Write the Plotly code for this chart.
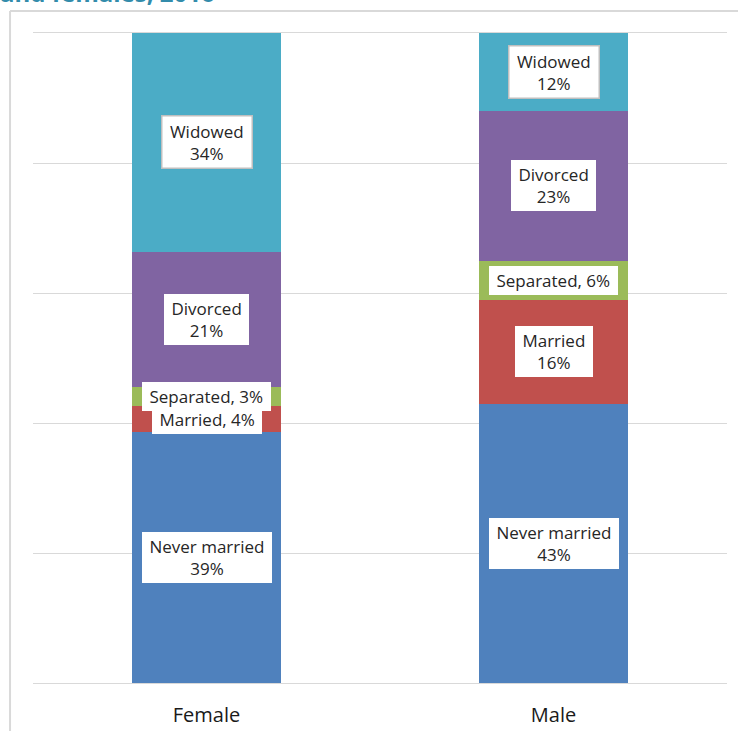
import plotly.graph_objects as go

categories = ["Female", "Male"]
statuses = ["Never married", "Married", "Separated", "Divorced", "Widowed"]
female_values = [39, 4, 3, 21, 34]
male_values = [43, 16, 6, 23, 12]
colors = ["#4f81bd", "#c0504d", "#9bbb59", "#8064a2", "#4bacc6"]

series = {"Female": female_values, "Male": male_values}

fig = go.Figure()
for i, status in enumerate(statuses):
    fig.add_trace(go.Bar(
        x=categories,
        y=[series[c][i] for c in categories],
        name=status,
        marker=dict(color=colors[i], line=dict(width=0)),
        hoverinfo="x+y+name",
    ))

# data labels
annotations = []
for c in categories:
    vals = series[c]
    total = sum(vals)
    cum = 0.0
    for i, status in enumerate(statuses):
        v = vals[i] / total * 100
        mid = cum + v / 2
        cum += v
        if vals[i] < 10:
            txt = f"&nbsp;{status}, {vals[i]}%&nbsp;"
        else:
            txt = f"&nbsp;{status}&nbsp;<br>{vals[i]}%"
        annotations.append(dict(
            x=c, y=mid, xref="x", yref="y", text=txt, showarrow=False,
            font=dict(family="Open Sans", size=17, color="#262626"),
            bgcolor="white", borderpad=3,
            bordercolor="#bfbfbf" if status == "Widowed" else "rgba(0,0,0,0)",
            borderwidth=1.5 if status == "Widowed" else 0,
        ))

# title fragment cut at top
annotations.append(dict(
    x=-0.05, y=1.034, xref="paper", yref="paper", xanchor="left", yanchor="bottom",
    yshift=0,
    text="<b>and females, 2016</b>", showarrow=False,
    font=dict(family="Open Sans", size=24, color="#338cab"),
))

fig.update_layout(
    width=738, height=731,
    margin=dict(l=33, r=11, t=33, b=48, autoexpand=False),
    paper_bgcolor="white", plot_bgcolor="white",
    barmode="stack", barnorm="percent", bargap=0.568,
    showlegend=False,
    annotations=annotations,
    xaxis=dict(
        showgrid=False, zeroline=False, ticks="",
        showline=True, linecolor="#d9d9d9", linewidth=1, mirror=True,
        ticklabelstandoff=14, automargin=False,
        tickfont=dict(family="Open Sans", size=20, color="#1a1a1a"),
    ),
    yaxis=dict(
        range=[0, 100], dtick=20, showgrid=True, gridcolor="#d9d9d9", gridwidth=1,
        showticklabels=False, zeroline=False, showline=False, ticks="",
        automargin=False,
    ),
    shapes=[
        dict(type="line", xref="paper", yref="paper", x0=-0.0331, x1=-0.0331,
             y0=1.0338, y1=-0.2, line=dict(color="#d9d9d9", width=2)),
        dict(type="line", xref="paper", yref="paper", x0=-0.0331, x1=1.1,
             y0=1.0338, y1=1.0338, line=dict(color="#d9d9d9", width=2)),
    ],
)

fig.write_html(
    "out.html",
    config={"displayModeBar": False},
    post_script="document.body.style.margin='0';document.body.style.overflow='hidden';",
)
